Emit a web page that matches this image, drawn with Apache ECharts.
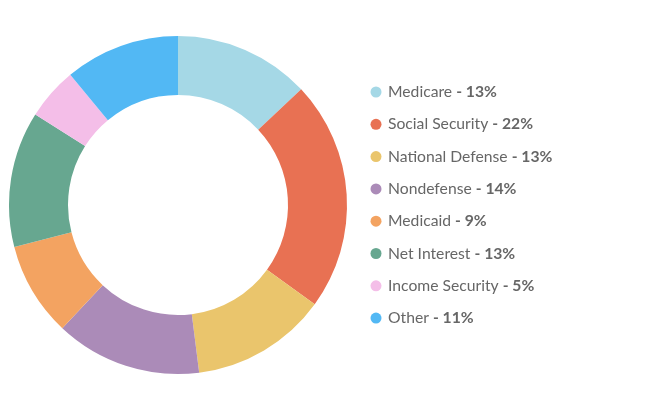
<!DOCTYPE html>
<html><head><meta charset="utf-8">
<script src="https://cdn.jsdelivr.net/npm/echarts@6/dist/echarts.min.js"></script>
<style>html,body{margin:0;padding:0;background:#fff}#c{width:648px;height:404px}</style>
</head><body><div id="c"></div>
<script>
const categories = ["Medicare","Social Security","National Defense","Nondefense","Medicaid","Net Interest","Income Security","Other"];
const values = [13,22,13,14,9,13,5,11];
const colors = ["#a5d8e6","#e87153","#eac56c","#ab8bb8","#f3a361","#67a790","#f4bee8","#52b8f4"];

const chart = echarts.init(document.getElementById('c'), null, {renderer:'canvas'});
const lookup = {};
categories.forEach((c,i)=>lookup[c]=values[i]);
chart.setOption({
  animation:false,
  color: colors,
  legend:{
    orient:'vertical', left:365.5, top:77,
    itemWidth:11, itemHeight:11, itemGap:12.3,
    icon:'circle',
    data: categories,
    formatter: n => '{n|' + n + '} {b|- ' + lookup[n] + '%}',
    textStyle:{
      fontFamily:'Lato', fontSize:15.7, color:'#666', lineHeight:20,
      padding:[0,0,0,1.5],
      rich:{
        n:{fontFamily:'Lato', fontSize:15.7, color:'#666'},
        b:{fontFamily:'Lato', fontSize:15.7, color:'#666', fontWeight:'bold'}
      }
    }
  },
  series:[{
    type:'pie',
    center:[178,205],
    radius:[110,169],
    startAngle:90,
    clockwise:true,
    label:{show:false},
    labelLine:{show:false},
    itemStyle:{borderWidth:0},
    data: categories.map((c,i)=>({name:c, value:values[i]}))
  }]
});
</script></body></html>
